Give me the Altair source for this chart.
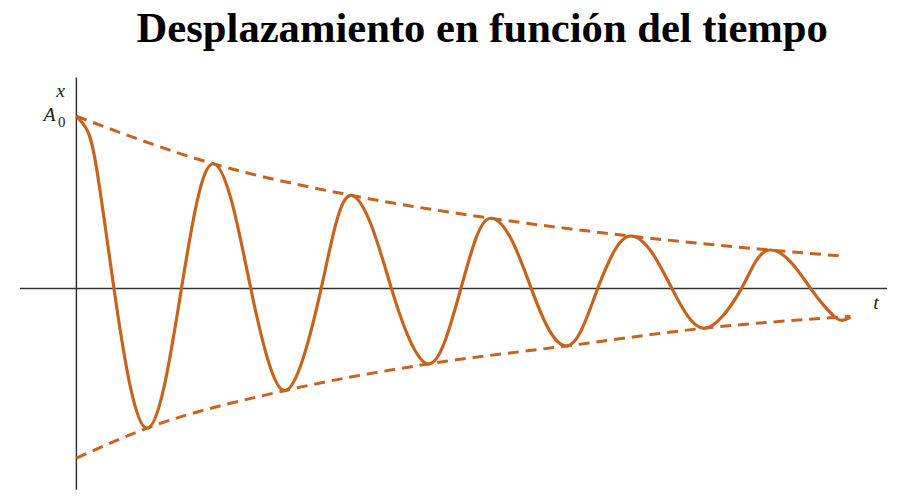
import altair as alt
import pandas as pd

# Damped oscillation (t in periods, x relative to A0)
curve_t = [0, 0.07, 0.145, 0.271, 0.389, 0.507, 0.632, 0.757, 0.871, 0.986, 1.121,
           1.257, 1.379, 1.50, 1.632, 1.764, 1.875, 1.986, 2.129, 2.271, 2.404, 2.536,
           2.654, 2.771, 2.879, 2.986, 3.132, 3.279, 3.404, 3.529, 3.643, 3.757, 3.875,
           3.993, 4.143, 4.293, 4.407, 4.521, 4.657, 4.793, 4.896, 5.0, 5.146, 5.293,
           5.393, 5.471, 5.521, 5.579]
curve_x = [1.0, 0.93, 0.70, 0, -0.57, -0.81, -0.57, 0, 0.51, 0.724, 0.50,
           0, -0.41, -0.592, -0.41, 0, 0.39, 0.54, 0.36, 0, -0.30, -0.437,
           -0.31, 0, 0.29, 0.408, 0.29, 0, -0.235, -0.333, -0.235, 0, 0.215,
           0.305, 0.215, 0, -0.16, -0.23, -0.16, 0, 0.157, 0.224, 0.157, 0,
           -0.103, -0.167, -0.184, -0.167]

upper_t = [0, 0.986, 1.986, 2.986, 3.993, 5.0, 5.5]
upper_x = [1.0, 0.724, 0.54, 0.408, 0.305, 0.224, 0.19]
lower_t = [0, 0.507, 1.5, 2.536, 3.529, 4.521, 5.579]
lower_x = [-0.983, -0.81, -0.592, -0.437, -0.333, -0.23, -0.161]

axis_t = [-0.407, 5.843]
axis_x = [-1.167, 1.224]

labels_text = ["x", "A", "0", "t"]
labels_t = [-0.114, -0.193, -0.105, 5.764]
labels_x = [1.144, 1.006, 0.965, -0.086]

X_DOMAIN = [-0.493, 5.857]
Y_DOMAIN = [-1.167, 1.270]
COLOR = "#c8621c"
SERIF = "Liberation Serif, Times New Roman, serif"

xs = alt.Scale(domain=X_DOMAIN, nice=False, zero=False)
ys = alt.Scale(domain=Y_DOMAIN, nice=False, zero=False)

curve_df = pd.DataFrame({"t": curve_t, "x": curve_x})
env_df = pd.concat([
    pd.DataFrame({"t": upper_t, "x": upper_x, "s": "upper"}),
    pd.DataFrame({"t": lower_t, "x": lower_x, "s": "lower"}),
])
haxis_df = pd.DataFrame({"t": [axis_t[0]], "t2": [axis_t[1]], "x": [0.0]})
vaxis_df = pd.DataFrame({"t": [0.0], "x": [axis_x[0]], "x2": [axis_x[1]]})
lab_df = pd.DataFrame({"label": labels_text, "t": labels_t, "x": labels_x})

hax = alt.Chart(haxis_df).mark_rule(color="#333333", strokeWidth=1.5).encode(
    x=alt.X("t:Q", scale=xs, axis=None), x2="t2:Q",
    y=alt.Y("x:Q", scale=ys, axis=None))
vax = alt.Chart(vaxis_df).mark_rule(color="#333333", strokeWidth=1.5).encode(
    x=alt.X("t:Q", scale=xs, axis=None),
    y=alt.Y("x:Q", scale=ys, axis=None), y2="x2:Q")

env = alt.Chart(env_df).mark_line(
    color=COLOR, strokeWidth=3, strokeDash=[11, 7], interpolate="monotone"
).encode(
    x=alt.X("t:Q", scale=xs, axis=None),
    y=alt.Y("x:Q", scale=ys, axis=None),
    detail="s:N")

curve = alt.Chart(curve_df).mark_line(
    color=COLOR, strokeWidth=3.2, interpolate="natural"
).encode(
    x=alt.X("t:Q", scale=xs, axis=None),
    y=alt.Y("x:Q", scale=ys, axis=None),
    order="t:Q")

lab_base = alt.Chart(lab_df).encode(
    x=alt.X("t:Q", scale=xs, axis=None),
    y=alt.Y("x:Q", scale=ys, axis=None),
    text="label:N")
lab_italic = lab_base.transform_filter(alt.datum.label != "0").mark_text(
    font=SERIF, fontStyle="italic", fontSize=20, color="#222222",
    align="center", baseline="middle")
lab_sub = lab_base.transform_filter(alt.datum.label == "0").mark_text(
    font=SERIF, fontSize=15, color="#222222",
    align="center", baseline="middle")

chart = alt.layer(hax, vax, env, curve, lab_italic, lab_sub).properties(
    width=889, height=424,
    autosize=alt.AutoSizeParams(type="none"),
    padding={"left": 0, "top": 60, "right": 0, "bottom": 0},
    title=alt.TitleParams(
        "Desplazamiento en función del tiempo",
        font=SERIF, fontSize=43, fontWeight="bold", color="black",
        anchor="middle", dx=34, baseline="alphabetic", offset=-15),
).configure_view(stroke=None)

chart.save("out.html", embed_options={"renderer": "svg", "actions": False})
